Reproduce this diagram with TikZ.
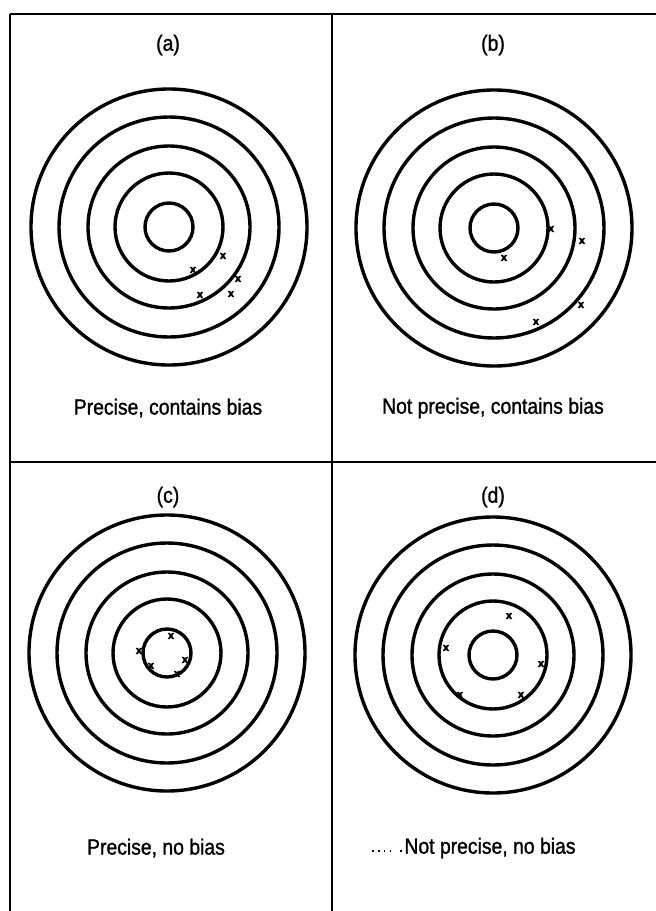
\documentclass[tikz,border=0pt]{standalone}
\usepackage{fontspec}
\setmainfont{Liberation Sans}[FakeStretch=0.88, FakeBold=1.2]
\newfontfamily\hitfont{Liberation Sans Bold}[FakeBold=4]
\begin{document}
\begin{tikzpicture}[x=1pt,y=-1pt,
  ring/.style={line width=3.4pt},
  framel/.style={line width=2.6pt},
  lbl/.style={font=\fontsize{22}{26}\selectfont, inner sep=0pt},
  hit/.style={font=\hitfont\fontsize{11}{11}\selectfont, inner sep=0pt}]
\useasboundingbox (0,0) rectangle (656,911);
% frame
\coordinate (tl) at (10,14);
\coordinate (tr) at (656,14);
\coordinate (bl) at (10,911);
\coordinate (tm) at (332,14);
\coordinate (bm) at (332,911);
\coordinate (ml) at (10,462);
\coordinate (mr) at (656,462);
\draw[framel] (tl) -- (tr);
\draw[framel] (tl) -- (bl);
\draw[framel] (tm) -- (bm);
\draw[framel] (ml) -- (mr);
% targets
\foreach \cx/\cy/\nm in {169/227/a, 494/228/b, 167/653/c, 493/655/d}{
  \coordinate (ctr\nm) at (\cx,\cy);
  \foreach \r in {24,54,81,110,138}{
    \draw[ring] (ctr\nm) circle[radius=\r];
  }
}
% titles
\node[lbl] (ta) at (168,45) {(a)};
\node[lbl] (tb) at (493,45) {(b)};
\node[lbl] (tc) at (168,497) {(c)};
\node[lbl] (td) at (493,497) {(d)};
% captions
\node[lbl] (capa) at (168,408) {Precise, contains bias};
\node[lbl] (capb) at (493,408) {Not precise, contains bias};
\node[lbl] (capc) at (156,848) {Precise, no bias};
\node[lbl] (capd) at (490,848) {Not precise, no bias};
\draw[line width=1.4pt, dash pattern=on 1.4pt off 4.5pt] ([xshift=-32pt,yshift=-3pt]capd.west) -- ([xshift=-10pt,yshift=-3pt]capd.west);
\draw[line width=1.4pt, dash pattern=on 1.4pt off 4.5pt] ([xshift=-4pt,yshift=-3pt]capd.west) -- ([xshift=-2.6pt,yshift=-3pt]capd.west);
% hits
\foreach \x/\y [count=\i] in {223/256, 193/270, 238/279, 231/294, 200/295,
  551/229, 582/241, 504/258, 581/305, 536/322,
  171/636, 139/651, 151/666, 185/660, 177/674,
  509/616, 446/648, 541/664, 460/695, 521/695}{
  \node[hit] (h\i) at (\x,\y) {x};
}
\end{tikzpicture}
\end{document}
